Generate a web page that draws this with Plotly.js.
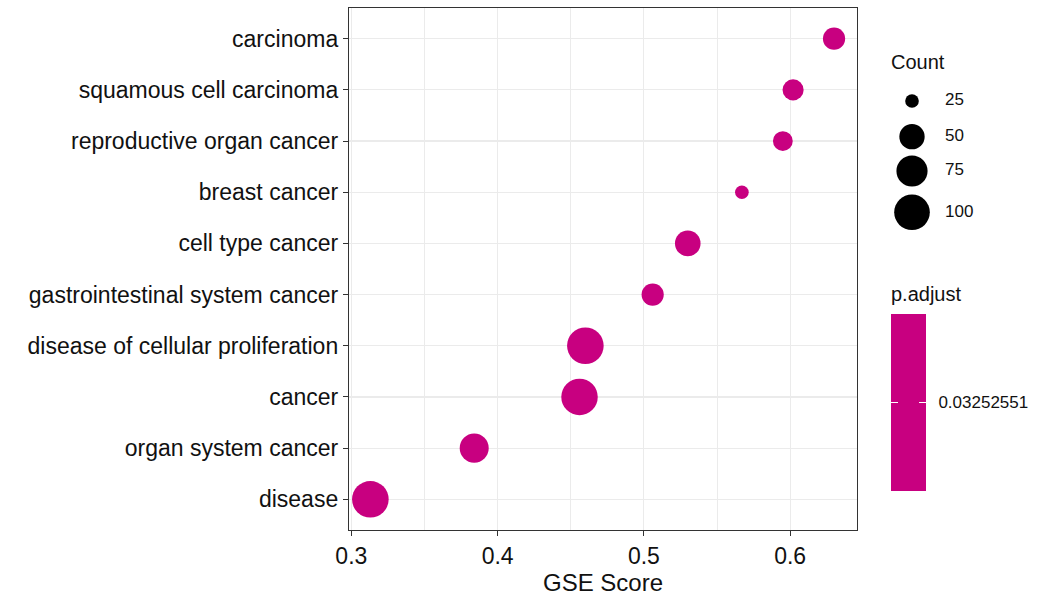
<!DOCTYPE html>
<html>
<head>
<meta charset="utf-8">
<script src="https://cdn.plot.ly/plotly-3.0.1.min.js"></script>
<style>html,body{margin:0;padding:0;background:#fff;}#chart{width:1043px;height:597px;}</style>
</head>
<body>
<div id="chart"></div>
<script>
// ---- data ----
const categories = [
  "carcinoma",
  "squamous cell carcinoma",
  "reproductive organ cancer",
  "breast cancer",
  "cell type cancer",
  "gastrointestinal system cancer",
  "disease of cellular proliferation",
  "cancer",
  "organ system cancer",
  "disease"
];
const gseScore = [0.630, 0.602, 0.595, 0.567, 0.530, 0.506, 0.460, 0.456, 0.384, 0.313];
const counts   = [40, 37, 34, 25, 51, 40, 106, 105, 65, 106];
const pAdjust  = [0.03252551, 0.03252551, 0.03252551, 0.03252551, 0.03252551,
                  0.03252551, 0.03252551, 0.03252551, 0.03252551, 0.03252551];
const sizeBreaks = [25, 50, 75, 100];
const sizeBreakLabels = ["25", "50", "75", "100"];
const xTicks = [0.3, 0.4, 0.5, 0.6];
const xTickLabels = ["0.3", "0.4", "0.5", "0.6"];
const pTickLabel = "0.03252551";

// ---- styling helpers ----
const MAG = "#C80080";
const FONT = "Liberation Sans, Arial, sans-serif";
const TXT = "#111111";
// ggplot-like area scale: diameter in px from count
function sizeOf(c) { return 10.8 + 2.85 * Math.sqrt(Math.max(c - 24, 0)); }

// layout geometry (pixels)
const W = 1043, H = 597;
const mL = 349, mR = 10, mT = 8, mB = 67;
const paperW = W - mL - mR, paperH = H - mT - mB;
const plotRight = 857;
const px2x = p => (p - mL) / paperW;
const px2y = p => (H - mB - p) / paperH;

// legend key placement (pixels)
const legendKeyX = 912, legendLabelX = 945;
const legendKeyY = [101, 136.7, 171, 212.3];

const pv = pAdjust[0];
const cLo = pv * 0.98, cHi = pv * 1.02;
const cbBase = {
  xref: "paper", yref: "paper",
  x: px2x(890.5), xanchor: "left",
  y: px2y(491), yanchor: "bottom",
  len: 177, lenmode: "pixels",
  thicknessmode: "pixels",
  xpad: 0, ypad: 0,
  outlinewidth: 0
};

const mainTrace = {
  type: "scatter", mode: "markers",
  x: gseScore, y: categories,
  xaxis: "x", yaxis: "y",
  marker: {
    size: counts.map(sizeOf),
    sizemode: "diameter",
    opacity: 1,
    color: pAdjust,
    colorscale: [[0, MAG], [1, MAG]],
    cmin: cLo, cmax: cHi,
    line: {width: 0},
    showscale: true,
    colorbar: Object.assign({}, cbBase, {
      thickness: 35,
      ticks: "inside", ticklen: 6.5, tickwidth: 1, tickcolor: "#ffffff",
      tickvals: [pv], ticktext: ["\u2002" + pTickLabel],
      tickfont: {family: FONT, size: 17, color: TXT}
    })
  },
  hoverinfo: "x+y",
  showlegend: false
};

// second (narrow) colour bar that only supplies the left-hand white tick mark of the p.adjust key
const tickBar = {
  type: "scatter", mode: "markers",
  x: [legendKeyX], y: [legendKeyY[0]],
  xaxis: "x2", yaxis: "y2",
  marker: {
    size: 1, opacity: 0,
    color: [pv],
    colorscale: [[0, MAG], [0.497, MAG], [0.497, "#ffffff"], [0.503, "#ffffff"], [0.503, MAG], [1, MAG]],
    cmin: cLo, cmax: cHi,
    showscale: true,
    colorbar: Object.assign({}, cbBase, {
      thickness: 6.5, ticks: "", showticklabels: false
    })
  },
  hoverinfo: "skip", showlegend: false
};

const legendMarkers = {
  type: "scatter", mode: "markers",
  x: sizeBreaks.map(() => legendKeyX), y: legendKeyY,
  xaxis: "x2", yaxis: "y2",
  marker: {size: sizeBreaks.map(sizeOf), color: "#000000", opacity: 1, line: {width: 0}},
  hoverinfo: "skip", showlegend: false
};
const legendLabels = {
  type: "scatter", mode: "text",
  x: sizeBreaks.map(() => legendLabelX), y: legendKeyY,
  text: sizeBreakLabels, textposition: "middle right",
  textfont: {family: FONT, size: 17, color: TXT},
  xaxis: "x2", yaxis: "y2",
  hoverinfo: "skip", showlegend: false
};

const layout = {
  width: W, height: H,
  margin: {l: mL, r: mR, t: mT, b: mB, pad: 0, autoexpand: false},
  paper_bgcolor: "#ffffff", plot_bgcolor: "rgba(0,0,0,0)",
  font: {family: FONT, color: TXT},
  xaxis: {
    domain: [0, px2x(plotRight)],
    range: [0.2984, 0.6457],
    tickvals: xTicks, ticktext: xTickLabels,
    ticks: "outside", ticklen: 5, tickwidth: 1.1, tickcolor: "#333333",
    tickfont: {family: FONT, size: 23, color: TXT},
    showgrid: true, gridcolor: "#EBEBEB", gridwidth: 1.2,
    minor: {dtick: 0.05, tick0: 0.3, showgrid: true, gridcolor: "#EBEBEB", gridwidth: 1, ticks: ""},
    showline: true, linecolor: "#333333", linewidth: 1.2, mirror: true,
    zeroline: false,
    title: {text: "GSE Score", font: {family: FONT, size: 24, color: TXT}, standoff: 2}
  },
  yaxis: {
    type: "category",
    categoryorder: "array", categoryarray: categories.slice().reverse(),
    range: [-0.6, categories.length - 0.4],
    ticks: "outside", ticklen: 5, tickwidth: 1.1, tickcolor: "#333333",
    tickfont: {family: FONT, size: 23, color: TXT},
    showgrid: true, gridcolor: "#EBEBEB", gridwidth: 1.2,
    showline: true, linecolor: "#333333", linewidth: 1.2, mirror: true,
    zeroline: false
  },
  xaxis2: {domain: [0, 1], range: [mL, W - mR], visible: false, fixedrange: true, anchor: "y2"},
  yaxis2: {domain: [0, 1], range: [H - mB, mT], visible: false, fixedrange: true, anchor: "x2"},
  annotations: [
    {text: "Count", xref: "paper", yref: "paper", x: px2x(889), y: px2y(62),
     xanchor: "left", yanchor: "middle", showarrow: false,
     font: {family: FONT, size: 20, color: TXT}},
    {text: "p.adjust", xref: "paper", yref: "paper", x: px2x(889), y: px2y(294),
     xanchor: "left", yanchor: "middle", showarrow: false,
     font: {family: FONT, size: 20, color: TXT}}
  ]
};

Plotly.newPlot("chart", [mainTrace, tickBar, legendMarkers, legendLabels], layout, {displayModeBar: false, staticPlot: true});
</script>
</body>
</html>
